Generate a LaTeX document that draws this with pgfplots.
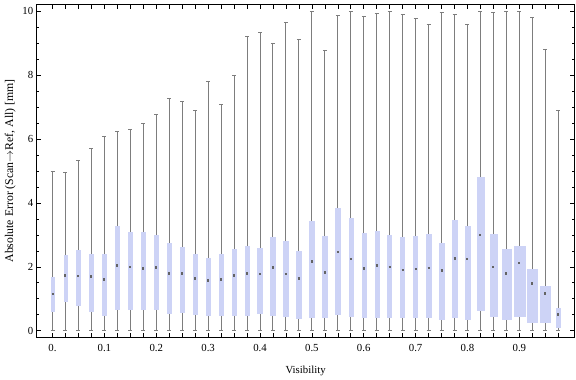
\documentclass[border=0pt]{standalone}
\usepackage{fontspec}
\setmainfont{Liberation Serif}
\usepackage{pgfplots}
\pgfplotsset{compat=1.18}
\usepgfplotslibrary{statistics}
\definecolor{boxblue}{RGB}{205,211,246}
\definecolor{wgray}{RGB}{125,125,125}
\definecolor{mgray}{RGB}{100,100,100}
% draw position, lower quartile, median, upper quartile, upper whisker, box extend
\newcommand{\bx}[6]{\addplot[boxplot prepared={draw position=#1, lower whisker=0, lower quartile=#2, median=#3, upper quartile=#4, upper whisker=#5, box extend=#6, whisker extend=0.0077}] coordinates {};}
\begin{document}
\begin{tikzpicture}
\begin{axis}[
  scale only axis, width=537.8bp, height=333bp,
  at={(0,0)}, anchor=south west,
  xmin=-0.0305, xmax=1.0063, ymin=-0.207, ymax=10.22,
  axis line style={black, line width=0.8bp},
  every tick/.style={black, line width=0.6bp},
  tick align=inside, major tick length=4.7bp, minor tick length=2.6bp,
  xtick={0,0.025,0.05,0.075,0.1,0.125,0.15,0.175,0.2,0.225,0.25,0.275,0.3,0.325,0.35,0.375,0.4,0.425,0.45,0.475,0.5,0.525,0.55,0.575,0.6,0.625,0.65,0.675,0.7,0.725,0.75,0.775,0.8,0.825,0.85,0.875,0.9,0.925,0.95,0.975},
  xticklabels={0.,{},{},{},0.1,{},{},{},0.2,{},{},{},0.3,{},{},{},0.4,{},{},{},0.5,{},{},{},0.6,{},{},{},0.7,{},{},{},0.8,{},{},{},0.9,{},{},{}},
  ytick={0,2,4,6,8,10}, minor y tick num=3,
  /pgf/number format/assume math mode=true,
  ticklabel style={font=\fontsize{10.8bp}{12bp}\selectfont, text=black},
  xticklabel style={yshift=-3bp},
  xlabel style={font=\fontsize{10.8bp}{12bp}\selectfont, text=black, yshift=-8bp},
  ylabel style={font=\fontsize{11.8bp}{13bp}\selectfont, text=black},
  xlabel={Visibility},
  ylabel={Absolute Error (Scan$\to$Ref, All) [mm]},
  boxplot/draw direction=y,
  boxplot/draw/box/.code={\fill[boxblue] (boxplot box cs:\pgfplotsboxplotvalue{lower quartile},0) rectangle (boxplot box cs:\pgfplotsboxplotvalue{upper quartile},1);},
  boxplot/draw/median/.code={\draw[mgray, line width=2.6bp] (boxplot whisker cs:\pgfplotsboxplotvalue{median},0.25) -- (boxplot whisker cs:\pgfplotsboxplotvalue{median},0.75);},
  boxplot/draw/lower whisker/.code={%
    \draw[wgray, line width=0.95bp] (boxplot box cs:\pgfplotsboxplotvalue{lower whisker},0.5) -- (boxplot box cs:\pgfplotsboxplotvalue{lower quartile},0.5);
    \draw[wgray, line width=0.95bp] (boxplot whisker cs:\pgfplotsboxplotvalue{lower whisker},0) -- (boxplot whisker cs:\pgfplotsboxplotvalue{lower whisker},1);},
  boxplot/draw/upper whisker/.code={%
    \draw[wgray, line width=0.95bp] (boxplot box cs:\pgfplotsboxplotvalue{upper quartile},0.5) -- (boxplot box cs:\pgfplotsboxplotvalue{upper whisker},0.5);
    \draw[wgray, line width=0.95bp] (boxplot whisker cs:\pgfplotsboxplotvalue{upper whisker},0) -- (boxplot whisker cs:\pgfplotsboxplotvalue{upper whisker},1);},
]
\bx{0}{0.61}{1.15}{1.67}{5.00}{0.0067}
\bx{0.025}{0.91}{1.73}{2.35}{4.94}{0.0067}
\bx{0.05}{0.79}{1.71}{2.51}{5.32}{0.0077}
\bx{0.075}{0.62}{1.69}{2.41}{5.70}{0.0067}
\bx{0.1}{0.48}{1.61}{2.40}{6.07}{0.0067}
\bx{0.125}{0.67}{2.04}{3.26}{6.23}{0.0083}
\bx{0.15}{0.67}{1.99}{3.07}{6.29}{0.0083}
\bx{0.175}{0.67}{1.95}{3.07}{6.48}{0.0083}
\bx{0.2}{0.67}{1.97}{2.98}{6.76}{0.0083}
\bx{0.225}{0.54}{1.79}{2.73}{7.26}{0.0083}
\bx{0.25}{0.57}{1.79}{2.60}{7.17}{0.0083}
\bx{0.275}{0.51}{1.64}{2.38}{6.89}{0.0077}
\bx{0.3}{0.48}{1.58}{2.27}{7.80}{0.0077}
\bx{0.325}{0.48}{1.60}{2.41}{7.07}{0.0071}
\bx{0.35}{0.48}{1.72}{2.54}{7.98}{0.0071}
\bx{0.375}{0.48}{1.80}{2.66}{9.22}{0.0077}
\bx{0.4}{0.56}{1.78}{2.57}{9.33}{0.0091}
\bx{0.425}{0.48}{1.97}{2.92}{8.98}{0.0091}
\bx{0.45}{0.46}{1.77}{2.79}{9.64}{0.0096}
\bx{0.475}{0.40}{1.64}{2.48}{9.11}{0.0091}
\bx{0.5}{0.42}{2.17}{3.42}{10.0}{0.0096}
\bx{0.525}{0.42}{1.82}{2.95}{8.77}{0.0096}
\bx{0.55}{0.53}{2.47}{3.85}{9.86}{0.0096}
\bx{0.575}{0.46}{2.25}{3.53}{10.0}{0.0077}
\bx{0.6}{0.42}{1.94}{3.04}{9.83}{0.0077}
\bx{0.625}{0.42}{2.04}{3.10}{9.92}{0.0077}
\bx{0.65}{0.42}{2.00}{2.98}{10.0}{0.0077}
\bx{0.675}{0.42}{1.90}{2.92}{9.90}{0.0077}
\bx{0.7}{0.42}{1.93}{2.95}{9.77}{0.0077}
\bx{0.725}{0.42}{1.96}{3.01}{9.58}{0.0083}
\bx{0.75}{0.36}{1.88}{2.73}{9.96}{0.0096}
\bx{0.775}{0.43}{2.26}{3.45}{9.90}{0.0096}
\bx{0.8}{0.36}{2.24}{3.26}{9.58}{0.0096}
\bx{0.825}{0.64}{2.99}{4.80}{10.0}{0.0135}
\bx{0.85}{0.45}{2.00}{3.01}{9.96}{0.0135}
\bx{0.875}{0.36}{1.80}{2.54}{10.0}{0.0174}
\bx{0.9}{0.45}{2.12}{2.63}{10.0}{0.0206}
\bx{0.925}{0.26}{1.48}{1.91}{9.80}{0.0193}
\bx{0.95}{0.26}{1.17}{1.38}{8.80}{0.0179}
\bx{0.975}{0.10}{0.51}{0.69}{6.89}{0.0077}
\end{axis}
\path[use as bounding box] (-36.7bp,-39.7bp) rectangle (539.3bp,337.3bp);
\end{tikzpicture}
\end{document}
